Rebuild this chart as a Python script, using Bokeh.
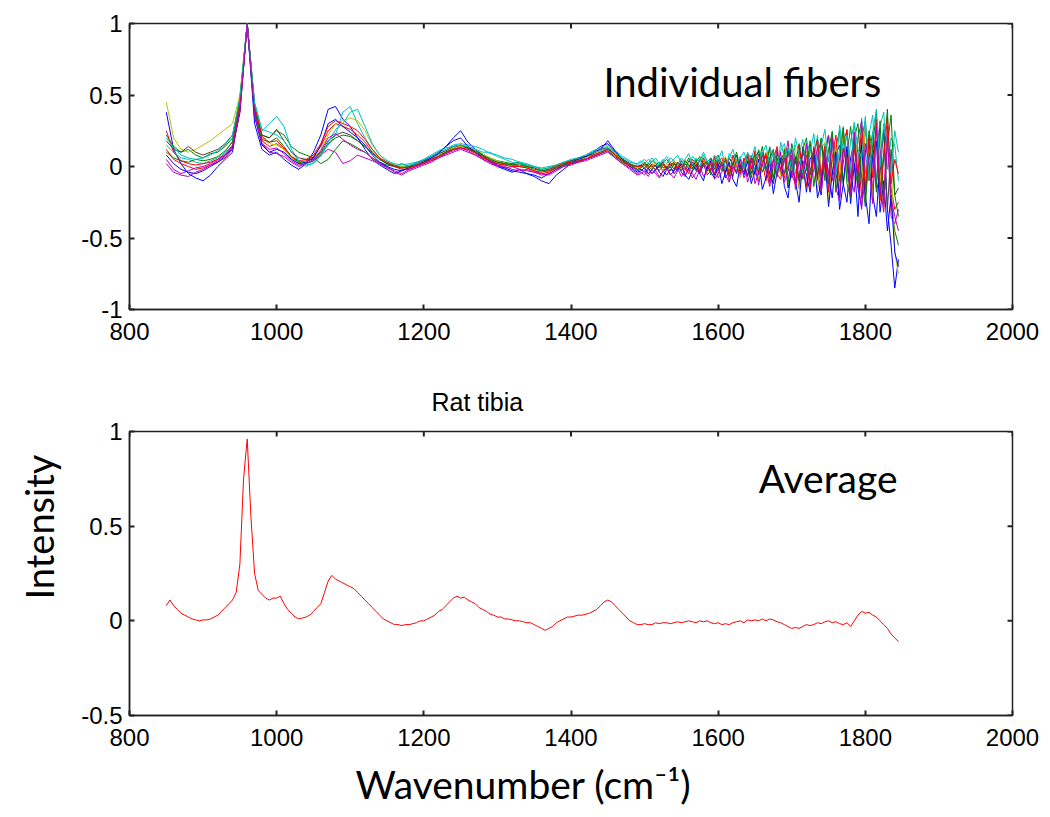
import numpy as np
from bokeh.plotting import figure
from bokeh.layouts import column
from bokeh.models import FixedTicker, Label, Range1d, Title
from bokeh.embed import file_html
from bokeh.resources import INLINE

# ---------------- data ----------------
wn_fibers = list(range(850, 1491, 10)) + list(range(1495, 1846, 5))

fiber_01 = [0.38, 0.12, 0.02, -0.05, -0.08, -0.10, -0.06, 0.00, 0.05, 0.10,
            0.42, 1.00, 0.30, 0.12, 0.08, 0.10, 0.05, 0.01, -0.02, 0.02,
            0.10, 0.22, 0.40, 0.42, 0.33, 0.28, 0.20, 0.12, 0.05, 0.01,
            -0.02, -0.05, -0.03, -0.01, 0.02, 0.04, 0.07, 0.10, 0.14, 0.20,
            0.25, 0.17, 0.12, 0.08, 0.03, 0.00, -0.02, -0.04, -0.02, -0.05,
            -0.07, -0.10, -0.12, -0.06, -0.02, 0.02, 0.04, 0.06, 0.10, 0.14,
            0.16, 0.10, 0.05, 0.02, -0.03,
            -0.02, -0.04, -0.01, -0.05, -0.02, 0.01, -0.03, -0.06, -0.02, -0.03,
            0.02, -0.04, -0.07, -0.01, 0.03, -0.02, -0.05, 0.01, -0.03, 0.04,
            -0.06, -0.02, 0.03, -0.08, -0.03, 0.02, -0.05, 0.05, -0.01, -0.07,
            0.04, -0.03, -0.10, 0.02, 0.07, -0.05, -0.12, 0.03, -0.02, 0.08,
            -0.15, -0.04, 0.06, -0.12, 0.02, -0.18, 0.05, 0.10, -0.08, -0.20,
            0.12, -0.05, -0.22, 0.08, 0.15, -0.12, -0.25, 0.06, 0.18, -0.15,
            -0.28, 0.10, 0.22, -0.20, -0.35, 0.05, 0.25, -0.30, -0.55, -0.85,
            -0.65]
fiber_02 = [0.22, 0.14, 0.10, 0.12, 0.08, 0.06, 0.09, 0.10, 0.14, 0.20,
            0.48, 1.00, 0.42, 0.22, 0.20, 0.25, 0.22, 0.14, 0.10, 0.08,
            0.06, 0.02, 0.05, 0.12, 0.18, 0.16, 0.13, 0.10, 0.06, 0.03,
            0.01, 0.00, 0.02, 0.00, 0.03, 0.04, 0.05, 0.08, 0.10, 0.12,
            0.14, 0.13, 0.10, 0.07, 0.06, 0.04, 0.03, 0.02, 0.03, 0.01,
            0.00, -0.02, -0.01, 0.01, 0.03, 0.04, 0.05, 0.07, 0.08, 0.10,
            0.12, 0.09, 0.05, 0.02, 0.00,
            0.01, 0.03, 0.00, 0.04, 0.02, -0.01, 0.03, 0.05, 0.01, 0.02,
            -0.02, 0.04, 0.01, 0.06, -0.01, 0.03, 0.07, 0.00, 0.04, -0.03,
            0.05, 0.08, 0.01, -0.04, 0.06, 0.02, 0.10, -0.02, 0.04, 0.07,
            -0.05, 0.09, 0.03, 0.14, -0.02, 0.06, 0.12, -0.07, 0.04, 0.10,
            -0.03, 0.16, 0.05, -0.08, 0.12, 0.20, -0.04, 0.09, 0.18, -0.10,
            0.06, 0.22, -0.06, 0.14, 0.25, -0.12, 0.08, 0.28, 0.02, -0.15,
            0.20, 0.32, -0.10, 0.15, 0.38, -0.20, 0.10, 0.40, -0.25, -0.45,
            -0.55]
fiber_03 = [0.12, 0.05, 0.02, 0.00, -0.02, -0.01, 0.01, 0.03, 0.06, 0.12,
            0.38, 1.00, 0.40, 0.18, 0.14, 0.16, 0.12, 0.06, 0.03, 0.04,
            0.07, 0.14, 0.25, 0.30, 0.28, 0.26, 0.22, 0.17, 0.10, 0.05,
            0.02, 0.00, -0.02, -0.02, 0.00, 0.02, 0.04, 0.07, 0.10, 0.13,
            0.15, 0.13, 0.10, 0.07, 0.04, 0.02, 0.01, 0.02, 0.00, -0.01,
            -0.03, -0.05, -0.04, -0.01, 0.01, 0.02, 0.03, 0.05, 0.07, 0.09,
            0.13, 0.08, 0.03, 0.00, -0.02,
            -0.01, 0.01, -0.02, 0.02, 0.00, -0.03, 0.01, -0.01, 0.03, 0.00,
            -0.03, 0.02, -0.01, -0.05, 0.03, 0.01, -0.04, 0.04, -0.02, 0.02,
            -0.05, 0.03, 0.06, -0.03, 0.01, -0.07, 0.05, 0.02, -0.04, 0.08,
            0.00, -0.06, 0.09, 0.03, -0.10, 0.06, 0.11, -0.05, -0.09, 0.07,
            0.13, -0.06, -0.12, 0.10, 0.02, -0.14, 0.15, 0.05, -0.09, 0.18,
            -0.02, -0.16, 0.20, 0.08, -0.12, 0.24, -0.05, -0.20, 0.18, 0.10,
            -0.22, 0.28, 0.05, -0.18, 0.30, -0.10, -0.28, 0.22, -0.15, -0.30,
            -0.25]
fiber_04 = [0.15, 0.10, 0.06, 0.05, 0.03, 0.02, 0.04, 0.06, 0.10, 0.18,
            0.45, 1.00, 0.45, 0.25, 0.30, 0.35, 0.28, 0.12, 0.04, 0.00,
            0.03, 0.08, 0.15, 0.22, 0.38, 0.42, 0.30, 0.20, 0.12, 0.06,
            0.03, 0.01, 0.00, 0.01, 0.02, 0.05, 0.07, 0.10, 0.12, 0.15,
            0.16, 0.15, 0.14, 0.12, 0.09, 0.08, 0.06, 0.05, 0.03, 0.02,
            0.00, -0.02, -0.01, 0.00, 0.02, 0.04, 0.06, 0.08, 0.11, 0.13,
            0.14, 0.11, 0.07, 0.04, 0.01,
            0.03, 0.05, 0.02, 0.06, 0.03, 0.01, 0.05, 0.02, 0.06, 0.04,
            0.01, 0.06, 0.03, -0.01, 0.07, 0.04, 0.00, 0.08, 0.03, 0.06,
            0.01, 0.07, 0.03, -0.02, 0.09, 0.05, -0.03, 0.06, 0.10, 0.02,
            0.08, -0.03, 0.12, 0.04, -0.04, 0.14, 0.06, -0.02, 0.11, 0.16,
            0.00, 0.13, -0.05, 0.09, 0.19, -0.03, 0.12, 0.06, 0.22, -0.06,
            0.16, 0.04, 0.25, -0.04, 0.12, 0.28, -0.08, 0.18, 0.30, 0.00,
            0.34, -0.05, 0.22, 0.36, -0.12, 0.28, 0.38, -0.02, 0.20, 0.15,
            -0.10]
fiber_05 = [0.05, -0.02, -0.05, -0.03, -0.01, 0.00, 0.02, 0.05, 0.09, 0.15,
            0.40, 1.00, 0.38, 0.16, 0.10, 0.09, 0.07, 0.03, 0.00, 0.02,
            0.04, 0.08, 0.12, 0.10, 0.02, 0.04, 0.08, 0.06, 0.04, 0.02,
            0.00, -0.04, -0.06, -0.03, -0.01, 0.01, 0.03, 0.06, 0.08, 0.10,
            0.12, 0.10, 0.08, 0.05, 0.02, 0.00, -0.01, 0.00, -0.02, -0.03,
            -0.04, -0.05, -0.06, -0.03, 0.00, 0.01, 0.03, 0.04, 0.06, 0.08,
            0.10, 0.06, 0.02, -0.02, -0.06,
            -0.05, -0.03, -0.07, -0.02, -0.05, -0.08, -0.03, -0.01, -0.06, -0.03,
            -0.01, -0.07, -0.03, 0.01, -0.05, -0.09, -0.02, 0.02, -0.06, -0.03,
            0.03, -0.08, -0.04, 0.05, -0.10, -0.02, 0.04, -0.07, 0.06, -0.11,
            -0.03, 0.05, -0.13, 0.02, 0.08, -0.09, -0.01, 0.12, -0.06, 0.04,
            0.18, -0.08, 0.06, -0.15, 0.10, 0.02, -0.12, 0.14, -0.05, -0.16,
            0.12, 0.22, -0.10, 0.05, -0.22, 0.18, 0.25, -0.08, -0.18, 0.20,
            0.32, -0.15, 0.08, -0.25, 0.35, 0.12, -0.20, 0.28, -0.35, -0.40,
            -0.30]
fiber_06 = [0.45, 0.20, 0.12, 0.10, 0.12, 0.15, 0.18, 0.22, 0.26, 0.30,
            0.50, 1.00, 0.42, 0.20, 0.16, 0.15, 0.12, 0.06, 0.02, 0.03,
            0.06, 0.12, 0.22, 0.30, 0.32, 0.34, 0.32, 0.25, 0.15, 0.08,
            0.04, 0.01, 0.00, -0.01, 0.01, 0.03, 0.05, 0.08, 0.11, 0.13,
            0.14, 0.14, 0.12, 0.09, 0.06, 0.04, 0.02, 0.01, 0.00, 0.00,
            -0.01, -0.03, -0.02, 0.00, 0.02, 0.03, 0.05, 0.06, 0.09, 0.11,
            0.15, 0.09, 0.04, 0.01, -0.01,
            0.00, -0.02, 0.02, -0.01, 0.03, 0.00, -0.03, 0.02, -0.01, 0.04,
            0.02, -0.03, 0.05, 0.00, -0.04, 0.03, -0.02, 0.06, -0.05, 0.01,
            0.04, -0.06, 0.02, 0.07, -0.04, -0.01, 0.05, -0.08, 0.03, 0.09,
            -0.03, 0.06, -0.09, 0.04, 0.10, -0.14, -0.02, 0.08, -0.06, 0.13,
            -0.10, 0.04, 0.15, -0.16, -0.02, 0.11, -0.08, 0.06, -0.18, 0.12,
            0.17, -0.25, 0.03, 0.14, -0.15, 0.26, -0.06, -0.20, 0.22, 0.05,
            -0.12, 0.30, 0.08, -0.22, 0.34, -0.05, -0.30, 0.18, 0.05, -0.60,
            -0.75]
fiber_07 = [0.18, 0.12, 0.10, 0.14, 0.10, 0.08, 0.10, 0.12, 0.16, 0.22,
            0.46, 1.00, 0.40, 0.22, 0.20, 0.26, 0.18, 0.10, 0.06, 0.05,
            0.05, 0.10, 0.18, 0.22, 0.24, 0.22, 0.18, 0.14, 0.09, 0.05,
            0.02, 0.00, -0.01, 0.00, 0.01, 0.03, 0.06, 0.09, 0.11, 0.14,
            0.15, 0.13, 0.11, 0.08, 0.05, 0.03, 0.02, 0.01, 0.02, 0.00,
            -0.01, -0.03, -0.02, 0.00, 0.02, 0.04, 0.06, 0.07, 0.09, 0.12,
            0.13, 0.08, 0.04, 0.01, 0.00,
            0.01, -0.01, 0.02, 0.00, -0.02, 0.01, 0.03, -0.01, 0.02, -0.02,
            0.03, 0.00, -0.02, 0.04, 0.01, -0.03, 0.05, 0.02, -0.01, 0.06,
            -0.02, 0.04, 0.00, -0.05, 0.06, 0.01, 0.08, -0.03, 0.02, -0.06,
            0.07, 0.01, -0.04, 0.10, -0.02, 0.04, -0.08, 0.09, 0.03, -0.05,
            0.11, -0.03, 0.07, -0.10, 0.14, 0.00, -0.06, 0.12, -0.08, 0.17,
            0.05, -0.12, 0.20, -0.04, -0.22, 0.13, 0.02, -0.16, 0.21, -0.08,
            0.18, -0.25, 0.06, 0.24, -0.18, -0.05, 0.26, -0.30, 0.12, -0.20,
            -0.15]
fiber_08 = [0.08, 0.02, -0.02, -0.04, -0.05, -0.03, 0.00, 0.03, 0.07, 0.13,
            0.38, 1.00, 0.35, 0.15, 0.10, 0.12, 0.10, 0.05, 0.02, 0.03,
            0.06, 0.15, 0.30, 0.33, 0.28, 0.24, 0.20, 0.15, 0.08, 0.03,
            0.00, -0.02, -0.03, -0.01, 0.01, 0.03, 0.06, 0.09, 0.14, 0.18,
            0.20, 0.14, 0.10, 0.06, 0.04, 0.01, -0.01, -0.03, -0.04, -0.05,
            -0.06, -0.08, -0.05, -0.02, 0.01, 0.03, 0.05, 0.07, 0.10, 0.12,
            0.18, 0.11, 0.05, 0.00, -0.04,
            -0.03, -0.01, -0.05, -0.02, 0.01, -0.04, -0.07, -0.02, 0.00, -0.05,
            -0.02, 0.02, -0.06, -0.09, -0.03, 0.01, -0.05, -0.10, 0.00, -0.04,
            -0.08, 0.02, -0.12, -0.04, 0.03, -0.09, -0.14, 0.01, -0.06, 0.04,
            -0.12, -0.03, 0.05, -0.16, -0.08, 0.03, -0.19, -0.04, 0.06, -0.14,
            -0.22, 0.02, -0.10, -0.25, 0.04, -0.06, -0.18, 0.08, -0.22, -0.12,
            0.06, -0.28, -0.05, 0.10, -0.30, -0.12, 0.14, -0.26, 0.02, -0.35,
            0.15, -0.20, -0.40, 0.08, 0.18, -0.32, -0.10, -0.45, -0.20, -0.60,
            -0.70]
fiber_09 = [0.10, 0.06, 0.04, 0.03, 0.05, 0.04, 0.05, 0.07, 0.11, 0.17,
            0.44, 1.00, 0.38, 0.19, 0.17, 0.20, 0.14, 0.07, 0.03, 0.02,
            0.04, 0.09, 0.16, 0.20, 0.22, 0.21, 0.18, 0.14, 0.10, 0.05,
            0.02, 0.01, -0.01, 0.00, 0.01, 0.02, 0.05, 0.07, 0.10, 0.12,
            0.13, 0.12, 0.10, 0.08, 0.05, 0.03, 0.02, 0.01, 0.01, 0.00,
            -0.02, -0.03, -0.03, -0.01, 0.01, 0.02, 0.04, 0.05, 0.07, 0.09,
            0.11, 0.07, 0.03, 0.01, -0.02,
            -0.01, 0.02, 0.00, -0.02, 0.01, 0.03, -0.01, 0.00, -0.03, 0.02,
            0.00, -0.03, 0.04, 0.01, -0.02, 0.05, -0.04, 0.02, 0.03, -0.06,
            0.01, 0.05, -0.03, 0.06, -0.07, 0.02, 0.08, -0.04, 0.00, 0.07,
            -0.08, 0.05, 0.11, -0.04, 0.02, 0.13, -0.10, 0.06, -0.03, 0.12,
            -0.12, 0.08, 0.02, 0.16, -0.09, -0.02, 0.18, -0.14, 0.07, 0.20,
            -0.10, 0.12, 0.24, -0.18, 0.06, 0.27, -0.12, -0.22, 0.20, 0.30,
            -0.08, -0.28, 0.25, 0.10, -0.15, 0.32, -0.26, 0.15, 0.36, -0.20,
            -0.35]
fiber_10 = [0.25, 0.10, 0.04, 0.02, 0.01, 0.02, 0.03, 0.05, 0.08, 0.14,
            0.42, 1.00, 0.43, 0.21, 0.17, 0.18, 0.13, 0.07, 0.04, 0.05,
            0.08, 0.16, 0.28, 0.32, 0.30, 0.28, 0.25, 0.19, 0.12, 0.06,
            0.03, 0.00, -0.01, -0.01, 0.01, 0.03, 0.05, 0.07, 0.09, 0.12,
            0.13, 0.12, 0.09, 0.06, 0.04, 0.02, 0.01, 0.00, 0.00, -0.01,
            -0.03, -0.04, -0.03, 0.00, 0.02, 0.03, 0.04, 0.05, 0.08, 0.10,
            0.12, 0.08, 0.04, 0.01, 0.00,
            0.00, 0.02, -0.01, 0.01, -0.03, 0.00, 0.02, -0.02, 0.01, 0.03,
            -0.01, 0.04, 0.00, -0.03, 0.05, 0.02, -0.04, 0.06, 0.01, -0.02,
            0.07, -0.03, 0.02, 0.05, -0.06, 0.08, 0.00, -0.05, 0.04, 0.09,
            -0.02, 0.11, -0.06, 0.03, 0.09, -0.11, 0.05, 0.14, -0.03, -0.08,
            0.12, 0.03, -0.13, 0.15, -0.02, 0.08, -0.16, 0.10, 0.19, -0.07,
            0.14, -0.18, 0.06, 0.22, -0.10, 0.02, 0.26, -0.20, 0.12, -0.05,
            0.28, -0.16, 0.20, -0.08, 0.33, -0.24, 0.06, 0.35, -0.12, 0.05,
            -0.05]
fiber_11 = [0.20, 0.13, 0.08, 0.06, 0.05, 0.06, 0.08, 0.11, 0.15, 0.22,
            0.48, 1.00, 0.44, 0.26, 0.24, 0.22, 0.18, 0.10, 0.04, 0.01,
            0.02, 0.07, 0.17, 0.26, 0.30, 0.38, 0.40, 0.28, 0.16, 0.08,
            0.04, 0.02, 0.01, 0.02, 0.03, 0.05, 0.08, 0.11, 0.13, 0.14,
            0.15, 0.14, 0.12, 0.10, 0.10, 0.07, 0.05, 0.03, 0.02, 0.01,
            0.00, -0.01, 0.00, 0.01, 0.03, 0.05, 0.06, 0.08, 0.10, 0.11,
            0.13, 0.10, 0.06, 0.03, 0.02,
            0.04, 0.02, 0.05, 0.03, 0.06, 0.02, 0.04, 0.07, 0.03, 0.05,
            0.08, 0.02, 0.05, 0.09, 0.01, 0.06, 0.03, 0.10, 0.04, 0.00,
            0.08, 0.04, 0.11, -0.01, 0.06, 0.12, 0.02, 0.07, -0.02, 0.10,
            0.05, 0.14, -0.02, 0.09, 0.15, 0.01, 0.11, -0.04, 0.17, 0.06,
            0.13, -0.03, 0.20, 0.08, -0.05, 0.18, 0.10, 0.23, -0.02, 0.14,
            0.26, 0.03, 0.17, -0.06, 0.29, 0.10, 0.22, -0.04, 0.31, 0.12,
            0.06, 0.35, -0.08, 0.24, 0.40, 0.00, 0.30, 0.15, -0.05, 0.25,
            0.10]
fiber_12 = [0.02, -0.04, -0.06, -0.07, -0.04, -0.02, 0.01, 0.04, 0.08, 0.14,
            0.39, 1.00, 0.36, 0.16, 0.12, 0.13, 0.09, 0.04, 0.01, 0.02,
            0.05, 0.11, 0.20, 0.23, 0.19, 0.15, 0.12, 0.10, 0.06, 0.02,
            -0.01, -0.03, -0.05, -0.02, 0.00, 0.02, 0.04, 0.06, 0.09, 0.11,
            0.13, 0.11, 0.08, 0.05, 0.03, 0.01, 0.00, -0.02, -0.03, -0.02,
            -0.04, -0.06, -0.05, -0.02, 0.00, 0.02, 0.03, 0.05, 0.07, 0.09,
            0.11, 0.06, 0.02, -0.01, -0.05,
            -0.04, -0.06, -0.02, -0.05, -0.03, -0.07, -0.04, -0.01, -0.05, -0.08,
            -0.03, 0.00, -0.06, -0.02, -0.08, -0.04, 0.01, -0.07, -0.03, 0.03,
            -0.09, -0.05, 0.02, -0.06, -0.11, 0.00, -0.04, 0.05, -0.08, -0.02,
            0.06, -0.12, -0.04, 0.08, -0.02, -0.14, 0.05, -0.07, 0.10, -0.11,
            -0.03, 0.12, -0.16, 0.04, -0.08, 0.16, -0.12, -0.02, 0.14, -0.18,
            0.08, -0.06, 0.20, -0.15, -0.24, 0.12, 0.04, -0.20, 0.24, -0.10,
            -0.30, 0.16, 0.02, -0.26, 0.28, -0.14, -0.32, 0.20, -0.22, -0.35,
            -0.45]

fibers = [fiber_01, fiber_02, fiber_03, fiber_04, fiber_05, fiber_06,
          fiber_07, fiber_08, fiber_09, fiber_10, fiber_11, fiber_12]

wn_avg = list(range(850, 1846, 5))
average = [0.08, 0.11, 0.08, 0.06, 0.04, 0.03, 0.02, 0.01, 0.005, 0.0,
           0.005, 0.005, 0.01, 0.02, 0.03, 0.05, 0.07, 0.09, 0.11, 0.15,
           0.30, 0.75, 0.96, 0.55, 0.25, 0.16, 0.14, 0.12, 0.11, 0.12,
           0.12, 0.13, 0.09, 0.06, 0.04, 0.02, 0.01, 0.015, 0.02, 0.03,
           0.05, 0.07, 0.09, 0.15, 0.21, 0.24, 0.22, 0.21, 0.20, 0.19,
           0.18, 0.17, 0.15, 0.13, 0.11, 0.09, 0.07, 0.05, 0.03, 0.01,
           0.0, -0.01, -0.02, -0.02, -0.025, -0.02, -0.02, -0.015, -0.01, 0.0,
           0.0, 0.01, 0.02, 0.03, 0.05, 0.06, 0.08, 0.10, 0.12, 0.13,
           0.12, 0.125, 0.11, 0.10, 0.09, 0.07, 0.06, 0.05, 0.035, 0.03,
           0.02, 0.02, 0.01, 0.01, 0.005, 0.0, 0.0, -0.005, -0.01, -0.01,
           -0.02, -0.03, -0.04, -0.05, -0.04, -0.03, -0.01, 0.0, 0.01, 0.02,
           0.02, 0.025, 0.03, 0.03, 0.035, 0.04, 0.05, 0.06, 0.08, 0.10,
           0.11, 0.10, 0.08, 0.06, 0.04, 0.02, 0.0, -0.01, -0.02, -0.02,
           -0.015, -0.02, -0.02, -0.01, -0.015, -0.01, -0.01, -0.015, -0.01, -0.005,
           -0.01, -0.005, 0.0, -0.005, -0.01, 0.0, -0.005, 0.0, -0.01, -0.015,
           -0.01, -0.02, -0.015, -0.02, -0.01, -0.005, 0.0, -0.01, 0.005, 0.0,
           0.005, 0.0, 0.01, 0.0, 0.01, 0.005, -0.005, -0.01, -0.02, -0.03,
           -0.04, -0.035, -0.04, -0.03, -0.02, -0.025, -0.02, -0.01, -0.015, -0.005,
           0.0, -0.01, -0.005, -0.015, -0.02, -0.01, -0.03, 0.0, 0.03, 0.05,
           0.04, 0.045, 0.03, 0.02, 0.0, -0.02, -0.04, -0.07, -0.09, -0.11]

x_ticks = [800, 1000, 1200, 1400, 1600, 1800, 2000]
y_ticks_top = [-1, -0.5, 0, 0.5, 1]
y_ticks_bottom = [-0.5, 0, 0.5, 1]
y_labels = {-1: "-1", -0.5: "-0.5", 0: "0", 0.5: "0.5", 1: "1"}

matlab_colors = ["#0000FF", "#008000", "#FF0000", "#00BFBF",
                 "#BF00BF", "#BFBF00", "#404040"]

TICK_FONT = "Liberation Sans"
BIG_FONT = "Lato"
AXIS_COLOR = "#222222"
TICK_PX = 5


def style(p, yticks, px_per_x, px_per_y):
    p.xgrid.visible = False
    p.ygrid.visible = False
    p.outline_line_color = AXIS_COLOR
    p.outline_line_width = 1.5
    p.background_fill_color = "white"
    p.border_fill_color = "white"
    for ax in list(p.below) + list(p.left):
        ax.axis_line_color = AXIS_COLOR
        ax.axis_line_width = 1.5
        ax.major_tick_in = TICK_PX
        ax.major_tick_out = 0
        ax.major_tick_line_width = 2
        ax.major_tick_line_color = AXIS_COLOR
        ax.minor_tick_line_color = None
        ax.major_label_text_font = TICK_FONT
        ax.major_label_text_font_size = "24px"
        ax.major_label_text_color = "black"
    p.xaxis.ticker = FixedTicker(ticks=x_ticks)
    p.yaxis.ticker = FixedTicker(ticks=yticks)
    p.yaxis.major_label_overrides = y_labels
    p.xaxis.major_label_standoff = 13
    p.yaxis.major_label_standoff = 7
    # mirrored inward ticks on the top and right edges of the box
    x0, x1 = p.x_range.start, p.x_range.end
    y0, y1 = p.y_range.start, p.y_range.end
    p.segment(x0=x_ticks, x1=x_ticks, y0=[y1] * len(x_ticks),
              y1=[y1 - TICK_PX / px_per_y] * len(x_ticks),
              line_color=AXIS_COLOR, line_width=2)
    p.segment(x0=[x1] * len(yticks), x1=[x1 - TICK_PX / px_per_x] * len(yticks),
              y0=yticks, y1=yticks, line_color=AXIS_COLOR, line_width=2)


def set_standoff(t, v):
    try:
        t.standoff = v
    except AttributeError:
        pass


# ---------------- top panel ----------------
top = figure(width=1050, height=368, x_range=Range1d(800, 2000), y_range=Range1d(-1, 1),
             output_backend="svg", toolbar_location=None,
             min_border_left=124, min_border_right=38, min_border_top=23, min_border_bottom=59)
style(top, y_ticks_top, 888 / 1200, 286 / 2)
for i, f in enumerate(fibers):
    top.line(wn_fibers, f, line_color=matlab_colors[i % len(matlab_colors)], line_width=1)

top.add_layout(Label(x=1444, y=0.59, text="Individual fibers", text_font=BIG_FONT,
                     text_font_size="40px", text_color="black",
                     text_align="left", text_baseline="alphabetic"))

# ---------------- bottom panel ----------------
bot = figure(width=1050, height=449, x_range=Range1d(800, 2000), y_range=Range1d(-0.5, 1),
             output_backend="svg", toolbar_location=None,
             min_border_left=124, min_border_right=38, min_border_top=63, min_border_bottom=101)
style(bot, y_ticks_bottom, 888 / 1200, 285 / 1.5)
bot.line(wn_avg, average, line_color="#FF0000", line_width=1)

bot.add_layout(Label(x=1655, y=0.755, text="Average", text_font=BIG_FONT,
                     text_font_size="39px", text_color="black",
                     text_align="left", text_baseline="alphabetic"))

t_rat = Title(text="Rat tibia", text_font=TICK_FONT, text_font_size="25px",
              text_font_style="normal", text_color="black",
              align="left", offset=302)
set_standoff(t_rat, 31)
bot.add_layout(t_rat, "above")

t_int = Title(text="Intensity", text_font=BIG_FONT, text_font_size="38px",
              text_font_style="normal", text_color="black",
              align="left", offset=116, vertical_align="top")
set_standoff(t_int, 30)
bot.add_layout(t_int, "left")

t_wn = Title(text="Wavenumber (cm\u207b\u00b9)", text_font=BIG_FONT,
             text_font_size="39px", text_font_style="normal", text_color="black",
             align="left", offset=226)
set_standoff(t_wn, 21)
bot.add_layout(t_wn, "below")

layout = column(top, bot, spacing=0)
open("out.html", "w").write(file_html(layout, INLINE))
